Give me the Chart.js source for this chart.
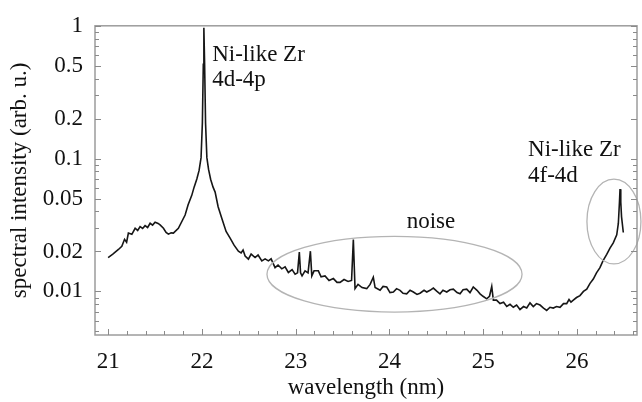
<!DOCTYPE html>
<html>
<head>
<meta charset="utf-8">
<script src="https://cdn.jsdelivr.net/npm/chart.js@4/dist/chart.umd.min.js"></script>
<style>
html,body{margin:0;padding:0;background:#fff;}
</style>
</head>
<body>
<canvas id="spectrum" width="642" height="402"></canvas>
<script>
// wavelength in nm, intensity in arb. u.
const wavelength = [
  21.00,21.05,21.11,21.146,21.175,21.197,21.216,21.253,21.288,21.315,
  21.341,21.368,21.394,21.421,21.448,21.474,21.501,21.533,21.554,21.590,
  21.618,21.643,21.672,21.696,21.749,21.821,21.853,21.892,21.917,21.946,
  21.970,21.991,22.005,22.015,22.021,22.029,22.039,22.053,22.071,22.093,
  22.119,22.141,22.173,22.212,22.258,22.301,22.343,22.389,22.418,22.439,
  22.461,22.496,22.525,22.567,22.599,22.639,22.674,22.709,22.738,22.780,
  22.812,22.852,22.887,22.922,22.962,22.994,23.020,23.039,23.052,23.068,
  23.100,23.132,23.157,23.172,23.196,23.242,23.271,23.313,23.356,23.402,
  23.441,23.473,23.516,23.559,23.596,23.615,23.633,23.665,23.708,23.758,
  23.794,23.828,23.847,23.900,23.932,23.971,24.006,24.042,24.076,24.113,
  24.145,24.184,24.220,24.255,24.294,24.326,24.369,24.398,24.433,24.468,
  24.507,24.539,24.571,24.611,24.646,24.681,24.721,24.753,24.785,24.824,
  24.859,24.894,24.934,24.966,24.998,25.037,25.067,25.091,25.108,25.142,
  25.179,25.217,25.251,25.286,25.321,25.356,25.392,25.430,25.464,25.499,
  25.534,25.568,25.606,25.643,25.677,25.712,25.747,25.782,25.819,25.856,
  25.890,25.915,25.936,25.961,25.995,26.032,26.069,26.104,26.139,26.174,
  26.208,26.245,26.277,26.317,26.352,26.387,26.424,26.441,26.453,26.459,
  26.467,26.475,26.494
];
const intensity = [
  0.0180,0.0191,0.0207,0.0219,0.0247,0.0235,0.0275,0.0269,0.0299,0.0288,
  0.0308,0.0298,0.0313,0.0303,0.0326,0.0316,0.0332,0.0325,0.0317,0.0299,
  0.0278,0.0270,0.0276,0.0275,0.0299,0.0376,0.0449,0.0529,0.0610,0.0703,
  0.0815,0.1017,0.185,0.514,0.966,0.514,0.185,0.1017,0.0829,0.0699,
  0.0610,0.0560,0.0434,0.0355,0.0283,0.0252,0.0223,0.0201,0.0195,0.0205,
  0.0185,0.0175,0.0191,0.0180,0.0188,0.0170,0.0176,0.0170,0.0176,0.0151,
  0.0158,0.0148,0.0153,0.0139,0.0146,0.0135,0.0138,0.0198,0.0138,0.0131,
  0.0143,0.0138,0.0201,0.0131,0.0143,0.0143,0.0129,0.0131,0.0121,0.0125,
  0.0117,0.0117,0.0123,0.0119,0.0121,0.0246,0.0105,0.0113,0.0107,0.0105,
  0.0113,0.0128,0.0107,0.0102,0.0109,0.0108,0.0098,0.0099,0.0105,0.0102,
  0.0097,0.0096,0.0102,0.0099,0.0095,0.0097,0.0102,0.0099,0.0102,0.0106,
  0.0100,0.0096,0.0102,0.0099,0.0103,0.0104,0.0098,0.0096,0.0103,0.0104,
  0.0098,0.0108,0.0102,0.0096,0.0092,0.0088,0.0092,0.0109,0.0086,0.0086,
  0.0081,0.0083,0.0077,0.0080,0.0076,0.0079,0.0073,0.0077,0.0075,0.0082,
  0.0077,0.0081,0.0079,0.0075,0.0072,0.0076,0.0075,0.0077,0.0076,0.0081,
  0.0081,0.0087,0.0083,0.0086,0.0090,0.0093,0.0100,0.0104,0.0115,0.0124,
  0.0138,0.0151,0.0170,0.0190,0.0212,0.0232,0.0267,0.0325,0.0472,0.0589,
  0.0472,0.0366,0.0278
];
const xTicks = [21, 22, 23, 24, 25, 26];
const yTicks = [0.01, 0.02, 0.05, 0.1, 0.2, 0.5, 1];

// annotation text: [x (nm), y (intensity), text, align]
const notes = [
  [22.11, 0.541, "Ni-like Zr", "left"],
  [22.11, 0.353, "4d-4p", "left"],
  [25.478, 0.105, "Ni-like Zr", "left"],
  [25.478, 0.0664, "4f-4d", "left"],
  [24.443, 0.0303, "noise", "center"]
];
// ellipses: centre x (nm), centre y (intensity), half width (nm), half height (decades)
const rings = [
  [24.054, 0.01349, 1.36, 0.285],
  [26.394, 0.0336, 0.288, 0.319]
];

const serif = "'Liberation Serif', 'DejaVu Serif', serif";

const framePlugin = {
  id: 'frame',
  afterDatasetsDraw(chart) {
    const {ctx, chartArea: a, scales: {x, y}} = chart;
    ctx.save();
    // ellipses
    ctx.strokeStyle = '#b4b4b4';
    ctx.lineWidth = 1.3;
    rings.forEach(r => {
      const cx = x.getPixelForValue(r[0]);
      const cy = y.getPixelForValue(r[1]);
      const rx = x.getPixelForValue(r[0] + r[2]) - cx;
      const ry = cy - y.getPixelForValue(r[1] * Math.pow(10, r[3]));
      ctx.beginPath();
      ctx.ellipse(cx, cy, rx, ry, 0, 0, Math.PI * 2);
      ctx.stroke();
    });
    // frame
    ctx.strokeStyle = '#9c9c9c';
    ctx.lineWidth = 1.5;
    ctx.strokeRect(a.left, a.top, a.right - a.left, a.bottom - a.top);
    // inward ticks
    ctx.lineWidth = 1;
    ctx.strokeStyle = '#8a8a8a';
    ctx.beginPath();
    for (let i = 0; i <= 30; i++) {
      const v = 20.8 + i * 0.2;
      if (v < x.min || v > x.max) continue;
      const px = Math.round(x.getPixelForValue(v)) + 0.5;
      const len = (i % 5 === 1) ? 6 : 4;
      ctx.moveTo(px, a.bottom);
      ctx.lineTo(px, a.bottom - len);
    }
    for (let d = -3; d <= 0; d++) {
      for (let k = 1; k <= 9; k++) {
        const v = k * Math.pow(10, d);
        if (v < y.min || v > y.max) continue;
        const py = Math.round(y.getPixelForValue(v)) + 0.5;
        const len = yTicks.some(t => Math.abs(t - v) < 1e-9) ? 6 : 4;
        ctx.moveTo(a.left, py);
        ctx.lineTo(a.left + len, py);
        ctx.moveTo(a.right, py);
        ctx.lineTo(a.right - len, py);
      }
    }
    ctx.stroke();
    // text notes
    ctx.fillStyle = '#111';
    ctx.font = '23px ' + serif;
    ctx.textBaseline = 'alphabetic';
    notes.forEach(n => {
      ctx.textAlign = n[3];
      ctx.fillText(n[2], x.getPixelForValue(n[0]), y.getPixelForValue(n[1]));
    });
    ctx.restore();
  }
};

new Chart(document.getElementById('spectrum'), {
  type: 'line',
  data: {
    datasets: [{
      data: wavelength.map((w, i) => ({x: w, y: intensity[i]})),
      borderColor: '#161616',
      borderWidth: 1.6,
      pointRadius: 0,
      tension: 0,
      fill: false
    }]
  },
  options: {
    responsive: false,
    animation: false,
    layout: {padding: {top: 21, right: 5, left: 0, bottom: 0}},
    plugins: {legend: {display: false}, tooltip: {enabled: false}},
    scales: {
      x: {
        type: 'linear',
        min: 20.86,
        max: 26.64,
        grid: {display: false, drawTicks: false},
        border: {display: false},
        afterBuildTicks: s => { s.ticks = xTicks.map(v => ({value: v})); },
        afterFit: s => { s.height = 67; },
        ticks: {
          padding: 13,
          color: '#111',
          font: {family: serif, size: 23},
          callback: v => String(v)
        },
        title: {
          display: true,
          text: 'wavelength (nm)',
          color: '#111',
          font: {family: serif, size: 23},
          padding: {top: 0, bottom: 0}
        }
      },
      y: {
        type: 'logarithmic',
        min: 0.0047,
        max: 1,
        grid: {display: false, drawTicks: false},
        border: {display: false},
        afterBuildTicks: s => { s.ticks = yTicks.map(v => ({value: v})); },
        afterFit: s => { s.width = 95; },
        ticks: {
          padding: 12,
          color: '#111',
          font: {family: serif, size: 23},
          callback: v => String(v)
        },
        title: {
          display: true,
          text: 'spectral intensity (arb. u.)',
          color: '#111',
          font: {family: serif, size: 23},
          padding: {top: 6, bottom: 0}
        }
      }
    }
  },
  plugins: [framePlugin]
});
</script>
</body>
</html>
